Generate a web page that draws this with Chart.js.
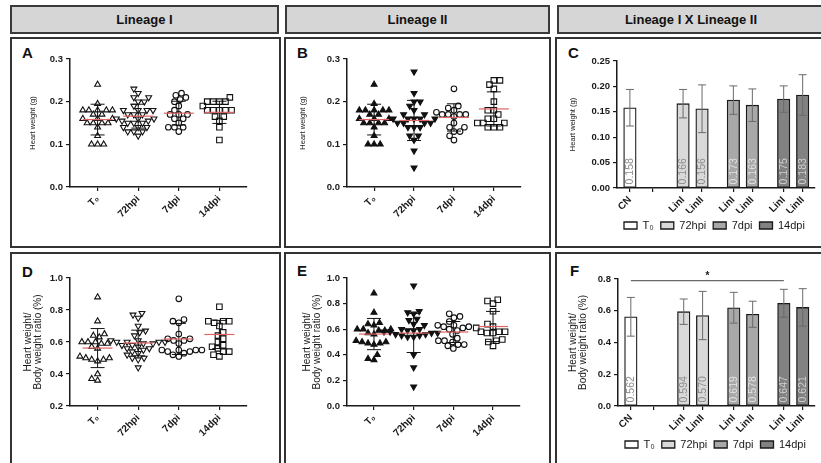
<!DOCTYPE html>
<html>
<head>
<meta charset="utf-8">
<script src="https://cdn.jsdelivr.net/npm/chart.js@4.4.1/dist/chart.umd.min.js"></script>
<style>
body { margin: 0; background: #fff; }
#fig { position: relative; width: 821px; height: 463px; overflow: hidden; font-family: 'Liberation Sans', Arial, sans-serif; }
.head { position: absolute; top: 5px; height: 25px; background: #d6d6d6; border: 2px solid #3a3a3a; font-weight: bold; font-size: 13px; line-height: 25px; text-align: center; color: #111; }
.panel { position: absolute; border: 2px solid #333; box-sizing: border-box; }
.tag { position: absolute; font-weight: bold; font-size: 15px; line-height: 15px; color: #111; }
canvas { position: absolute; }
</style>
</head>
<body>
<div id="fig">
  <div class="head" style="left:10px;width:265px">Lineage I</div>
  <div class="head" style="left:285px;width:261px">Lineage II</div>
  <div class="head" style="left:557px;width:264px">Lineage I X Lineage II</div>

  <div class="panel" style="left:10px;top:37px;width:271px;height:211px"></div>
  <div class="panel" style="left:284px;top:37px;width:267px;height:211px"></div>
  <div class="panel" style="left:555px;top:37px;width:268px;height:211px"></div>
  <div class="panel" style="left:10px;top:252px;width:271px;height:215px"></div>
  <div class="panel" style="left:284px;top:252px;width:267px;height:215px"></div>
  <div class="panel" style="left:555px;top:252px;width:268px;height:215px"></div>

  <div class="tag" style="left:22px;top:45px">A</div>
  <div class="tag" style="left:297px;top:45px">B</div>
  <div class="tag" style="left:568px;top:45px">C</div>
  <div class="tag" style="left:22px;top:264px">D</div>
  <div class="tag" style="left:297px;top:263px">E</div>
  <div class="tag" style="left:570px;top:263px">F</div>
</div>
<script>
// ---------- data ----------
const timeLabels = ['T₀', '72hpi', '7dpi', '14dpi'];

// heart weight (g), individual animals
const hwT0 = [0.24, 0.195, 0.18, 0.18, 0.18, 0.18, 0.18, 0.17, 0.17, 0.16, 0.16, 0.16, 0.15, 0.15, 0.15, 0.15, 0.14, 0.12, 0.10, 0.10, 0.10];
const hwLinI72 = [0.23, 0.22, 0.21, 0.21, 0.20, 0.20, 0.19, 0.18, 0.18, 0.18, 0.18, 0.17, 0.17, 0.17, 0.16, 0.16, 0.16, 0.155, 0.155, 0.15, 0.15, 0.15, 0.14, 0.14, 0.14, 0.13, 0.13, 0.13, 0.12];
const hwLinI7 = [0.22, 0.215, 0.21, 0.205, 0.20, 0.19, 0.18, 0.17, 0.17, 0.17, 0.16, 0.16, 0.15, 0.14, 0.14, 0.14, 0.13];
const hwLinI14 = [0.21, 0.20, 0.20, 0.20, 0.20, 0.19, 0.18, 0.18, 0.18, 0.18, 0.18, 0.165, 0.165, 0.155, 0.14, 0.11];
const hwLinII72 = [0.27, 0.22, 0.20, 0.20, 0.19, 0.18, 0.17, 0.17, 0.16, 0.16, 0.16, 0.16, 0.16, 0.15, 0.15, 0.15, 0.15, 0.14, 0.14, 0.14, 0.12, 0.12, 0.11, 0.085, 0.045];
const hwLinII7 = [0.23, 0.19, 0.185, 0.18, 0.175, 0.17, 0.17, 0.17, 0.17, 0.165, 0.15, 0.14, 0.14, 0.13, 0.13, 0.12, 0.11];
const hwLinII14 = [0.25, 0.25, 0.24, 0.23, 0.20, 0.18, 0.18, 0.17, 0.16, 0.16, 0.15, 0.15, 0.15, 0.14, 0.14, 0.14];

// heart weight / body weight ratio (%)
const rT0 = [0.88, 0.73, 0.65, 0.64, 0.63, 0.60, 0.60, 0.60, 0.59, 0.59, 0.57, 0.56, 0.51, 0.50, 0.50, 0.49, 0.49, 0.48, 0.40, 0.37, 0.36];
const rLinI72 = [0.78, 0.77, 0.75, 0.70, 0.67, 0.66, 0.64, 0.61, 0.61, 0.60, 0.60, 0.60, 0.60, 0.59, 0.59, 0.58, 0.58, 0.57, 0.56, 0.56, 0.55, 0.54, 0.53, 0.52, 0.50, 0.50, 0.49, 0.44];
const rLinI7 = [0.87, 0.74, 0.73, 0.72, 0.65, 0.62, 0.62, 0.61, 0.61, 0.59, 0.55, 0.55, 0.55, 0.55, 0.54, 0.54, 0.53, 0.52, 0.51];
const rLinI14 = [0.82, 0.73, 0.73, 0.73, 0.72, 0.70, 0.66, 0.64, 0.62, 0.60, 0.58, 0.57, 0.56, 0.54, 0.54, 0.52, 0.51];
const rLinII72 = [0.94, 0.74, 0.73, 0.72, 0.68, 0.67, 0.64, 0.63, 0.60, 0.60, 0.59, 0.59, 0.58, 0.58, 0.57, 0.57, 0.56, 0.56, 0.55, 0.55, 0.54, 0.54, 0.40, 0.30, 0.15];
const rLinII7 = [0.72, 0.70, 0.69, 0.66, 0.63, 0.63, 0.62, 0.62, 0.61, 0.60, 0.59, 0.56, 0.53, 0.51, 0.51, 0.50, 0.48, 0.48, 0.47, 0.45];
const rLinII14 = [0.83, 0.82, 0.80, 0.74, 0.64, 0.62, 0.61, 0.58, 0.58, 0.58, 0.57, 0.57, 0.52, 0.51, 0.50, 0.47];

// group means and SD (T0, 72hpi, 7dpi, 14dpi)
const hwMeanI = [0.158, 0.166, 0.173, 0.175];
const hwSdI = [0.036, 0.028, 0.028, 0.026];
const hwMeanII = [0.158, 0.156, 0.163, 0.183];
const hwSdII = [0.036, 0.047, 0.032, 0.040];
const rMeanI = [0.562, 0.594, 0.619, 0.647];
const rSdI = [0.122, 0.080, 0.097, 0.088];
const rMeanII = [0.562, 0.570, 0.578, 0.621];
const rSdII = [0.122, 0.152, 0.082, 0.118];

const hwTicks = [0, 0.1, 0.2, 0.3];
const rTicksI = [0.2, 0.4, 0.6, 0.8, 1.0];
const rTicksII = [0, 0.2, 0.4, 0.6, 0.8, 1.0];
const hwBarTicks = [0, 0.05, 0.10, 0.15, 0.20, 0.25];
const rBarTicks = [0, 0.2, 0.4, 0.6, 0.8];

// bars of C / F: CN then LinI, LinII per time point
const barNames = ['CN', 'LinI', 'LinII', 'LinI', 'LinII', 'LinI', 'LinII'];
const barTime = [0, 1, 1, 2, 2, 3, 3];
const barLineage = [0, 0, 1, 0, 1, 0, 1];
const sigF = { from: 0, to: 5, level: 0.79, label: '*' };

// ---------- styling ----------
Chart.defaults.font.family = "'Liberation Sans', Arial, sans-serif";
Chart.defaults.color = '#1a1a1a';
Chart.defaults.animation = false;

const ink = '#1a1a1a';
const markerStyle = ['triangle', 'triangle', 'circle', 'rect'];
const markerRotation = [0, 180, 0, 0];
const markerRadius = [3.4, 3.4, 2.8, 3.9];
const barFill = ['#ffffff', '#d9d9d9', '#a8a8a8', '#828282'];
const barText = ['#8c8c8c', '#8c8c8c', '#e2e2e2', '#cfcfcf'];

function makeCanvas(b) {
  const c = document.createElement('canvas');
  c.width = b.w; c.height = b.h;
  c.style.left = b.left + 'px'; c.style.top = b.top + 'px';
  document.getElementById('fig').appendChild(c);
  return c;
}

// simple beeswarm, offsets in px
function swarm(values, pxPerY, dia) {
  const placed = [];
  const out = new Array(values.length);
  const order = values.map((v, i) => i).sort((a, b) => values[a] - values[b]);
  order.forEach(i => {
    const y = values[i] * pxPerY;
    const blocked = [];
    placed.forEach(p => {
      const dy = Math.abs(p.y - y);
      if (dy < dia) {
        const w = Math.sqrt(dia * dia - dy * dy);
        blocked.push([p.x - w, p.x + w]);
      }
    });
    const cands = [0];
    blocked.forEach(([a, b]) => cands.push(a, b));
    cands.sort((a, b) => Math.abs(a) - Math.abs(b));
    let x = 0;
    for (const c of cands) {
      if (blocked.every(([a, b]) => c <= a + 1e-6 || c >= b - 1e-6)) { x = c; break; }
    }
    placed.push({ x, y });
    out[i] = x;
  });
  return out;
}

const summaryPlugin = {
  id: 'summary',
  afterDatasetsDraw(chart, args, opts) {
    const { ctx, scales: { x, y } } = chart;
    opts.means.forEach((m, i) => {
      const cx = x.getPixelForValue(i);
      const top = y.getPixelForValue(m + opts.sds[i]);
      const bot = y.getPixelForValue(m - opts.sds[i]);
      const my = y.getPixelForValue(m);
      ctx.save();
      ctx.strokeStyle = '#111';
      ctx.lineWidth = 1;
      ctx.beginPath();
      ctx.moveTo(cx, top); ctx.lineTo(cx, bot);
      ctx.moveTo(cx - 7, top); ctx.lineTo(cx + 7, top);
      ctx.moveTo(cx - 7, bot); ctx.lineTo(cx + 7, bot);
      ctx.stroke();
      ctx.strokeStyle = '#e06464';
      ctx.lineWidth = 1.2;
      ctx.beginPath();
      ctx.moveTo(cx - 15, my); ctx.lineTo(cx + 15, my);
      ctx.stroke();
      ctx.restore();
    });
  }
};

const barExtras = {
  id: 'barExtras',
  afterDatasetsDraw(chart, args, opts) {
    const { ctx, scales: { y } } = chart;
    const xs = [];
    chart.data.datasets.forEach((ds, di) => {
      chart.getDatasetMeta(di).data.forEach((bar, k) => {
        const m = ds.data[k].y, sd = ds.sd[k];
        xs[ds.index[k]] = bar.x;
        const top = y.getPixelForValue(m + sd), bot = y.getPixelForValue(m - sd);
        ctx.save();
        ctx.strokeStyle = '#6a6a6a';
        ctx.lineWidth = 1;
        ctx.beginPath();
        ctx.moveTo(bar.x, top); ctx.lineTo(bar.x, bot);
        ctx.moveTo(bar.x - 4, top); ctx.lineTo(bar.x + 4, top);
        ctx.moveTo(bar.x - 4, bot); ctx.lineTo(bar.x + 4, bot);
        ctx.stroke();
        ctx.translate(bar.x, bar.base - 3);
        ctx.rotate(-Math.PI / 2);
        ctx.fillStyle = ds.textColor;
        ctx.font = '10.5px "Liberation Sans", Arial, sans-serif';
        ctx.textAlign = 'left';
        ctx.textBaseline = 'middle';
        ctx.fillText(m.toFixed(3), 0, 0.5);
        ctx.restore();
      });
    });
    if (opts.sig) {
      const sy = y.getPixelForValue(opts.sig.level);
      ctx.save();
      ctx.strokeStyle = '#6a6a6a';
      ctx.lineWidth = 1.2;
      ctx.beginPath();
      ctx.moveTo(xs[opts.sig.from], sy); ctx.lineTo(xs[opts.sig.to], sy);
      ctx.stroke();
      ctx.fillStyle = ink;
      ctx.font = 'bold 10px "Liberation Sans", Arial, sans-serif';
      ctx.textAlign = 'center';
      ctx.textBaseline = 'bottom';
      ctx.fillText(opts.sig.label, (xs[opts.sig.from] + xs[opts.sig.to]) / 2, sy + 1);
      ctx.restore();
    }
  }
};

function yAxis(p, ticks, dec) {
  return {
    type: 'linear', min: ticks[0], max: ticks[ticks.length - 1],
    afterBuildTicks: ax => { ax.ticks = ticks.map(v => ({ value: v })); },
    ticks: { callback: v => Number(v).toFixed(dec), font: { size: 9.5, weight: 'bold' }, color: ink, padding: 3 },
    grid: { drawOnChartArea: false, drawTicks: true, tickLength: 4, color: ink, lineWidth: 1.2 },
    border: { display: true, color: ink, width: 1.5 },
    title: { display: true, text: p.title, font: { size: p.titleSize, lineHeight: p.titleLH }, padding: 0, color: ink },
    afterFit: ax => { ax.width = p.area.l - p.titleLeft; }
  };
}

function xAxis(p, min, max, vals, labels) {
  return {
    type: 'linear', min, max, offset: false,
    afterBuildTicks: ax => { ax.ticks = vals.map(v => ({ value: v })); },
    ticks: { callback: (v, i) => labels[i], autoSkip: false, minRotation: 45, maxRotation: 45, font: { size: 10, weight: 'bold' }, color: ink, padding: 2 },
    grid: { offset: false, drawOnChartArea: false, drawTicks: true, tickLength: 4, color: ink, lineWidth: 1.2 },
    border: { display: true, color: ink, width: 1.5 },
    afterFit: ax => { ax.height = p.xH; }
  };
}

function padding(p) {
  return {
    left: p.titleLeft - p.box.left,
    top: p.area.t - p.box.top,
    right: p.box.left + p.box.w - p.area.r,
    bottom: Math.max(0, p.box.top + p.box.h - p.area.b - p.xH - (p.legendH || 0))
  };
}

const SX_MIN = -0.68, SX_MAX = 3.68;

function scatterChart(p) {
  const pxPerY = (p.area.b - p.area.t) / (p.yTicks[p.yTicks.length - 1] - p.yTicks[0]);
  const pxPerX = (p.area.r - p.area.l) / (SX_MAX - SX_MIN);
  const datasets = p.groups.map((vals, g) => {
    const off = swarm(vals, pxPerY, 6.1);
    return {
      data: vals.map((v, k) => ({ x: g + off[k] / pxPerX, y: v })),
      showLine: false,
      pointStyle: markerStyle[g],
      pointRotation: markerRotation[g],
      pointRadius: markerRadius[g],
      pointBorderColor: '#111',
      pointBorderWidth: 1.1,
      pointBackgroundColor: (p.filled && g < 2) ? '#111' : 'rgba(0,0,0,0)'
    };
  });
  new Chart(makeCanvas(p.box), {
    type: 'scatter',
    data: { datasets },
    options: {
      responsive: false,
      layout: { padding: padding(p) },
      plugins: { legend: { display: false }, tooltip: { enabled: false }, summary: { means: p.means, sds: p.sds } },
      scales: {
        x: xAxis(p, SX_MIN, SX_MAX, [0, 1, 2, 3], timeLabels),
        y: yAxis(p, p.yTicks, p.dec)
      }
    },
    plugins: [summaryPlugin]
  });
}

const BX_MIN = -0.68, BX_MAX = 9.75;
function barX(i) {
  return barTime[i] === 0 ? 0 : 2.8 + (barTime[i] - 1) * 2.65 + barLineage[i];
}

function barChart(p) {
  const value = i => (barLineage[i] ? p.meanII : p.meanI)[barTime[i]];
  const sd = i => (barLineage[i] ? p.sdII : p.sdI)[barTime[i]];
  const datasets = timeLabels.map((t, k) => {
    const idx = barNames.map((n, i) => i).filter(i => barTime[i] === k);
    return {
      label: t,
      data: idx.map(i => ({ x: barX(i), y: value(i) })),
      sd: idx.map(sd),
      index: idx,
      textColor: barText[k],
      backgroundColor: barFill[k],
      borderColor: ink,
      borderWidth: 1.3,
      borderSkipped: false,
      barThickness: 12.5,
      grouped: false
    };
  });
  const tickVals = [0, 1.2].concat(barNames.slice(1).map((n, i) => barX(i + 1)));
  const tickLabels = ['CN', ''].concat(barNames.slice(1));
  new Chart(makeCanvas(p.box), {
    type: 'bar',
    data: { datasets },
    options: {
      responsive: false,
      layout: { padding: padding(p) },
      plugins: {
        tooltip: { enabled: false },
        legend: {
          position: 'bottom', align: 'start', fullSize: false,
          labels: { boxWidth: 13, boxHeight: 7, padding: 7, font: { size: 11 }, color: ink }
        },
        barExtras: { sig: p.sig }
      },
      scales: {
        x: xAxis(p, BX_MIN, BX_MAX, tickVals, tickLabels),
        y: yAxis(p, p.yTicks, p.dec)
      }
    },
    plugins: [barExtras]
  });
}

const hwTitle = 'Heart weight (g)';
const rTitle = ['Heart weight/', 'Body weight ratio (%)'];

scatterChart({
  box: { left: 13, top: 39, w: 266, h: 207 }, area: { l: 70, t: 59, r: 247, b: 187 },
  titleLeft: 28.5, title: hwTitle, titleSize: 7.5, titleLH: 1.2, xH: 45,
  groups: [hwT0, hwLinI72, hwLinI7, hwLinI14], means: hwMeanI, sds: hwSdI,
  yTicks: hwTicks, dec: 1, filled: false
});
scatterChart({
  box: { left: 287, top: 39, w: 262, h: 207 }, area: { l: 347, t: 59, r: 521, b: 187 },
  titleLeft: 298.5, title: hwTitle, titleSize: 7.5, titleLH: 1.2, xH: 45,
  groups: [hwT0, hwLinII72, hwLinII7, hwLinII14], means: hwMeanII, sds: hwSdII,
  yTicks: hwTicks, dec: 1, filled: true
});
barChart({
  box: { left: 558, top: 39, w: 263, h: 207 }, area: { l: 617, t: 61, r: 815, b: 187 },
  titleLeft: 568.5, title: hwTitle, titleSize: 7.5, titleLH: 1.2, xH: 25, legendH: 29,
  meanI: hwMeanI, sdI: hwSdI, meanII: hwMeanII, sdII: hwSdII,
  yTicks: hwBarTicks, dec: 2
});
scatterChart({
  box: { left: 13, top: 254, w: 266, h: 207 }, area: { l: 70, t: 278, r: 247, b: 406 },
  titleLeft: 22.75, title: rTitle, titleSize: 10, titleLH: 1.05, xH: 45,
  groups: [rT0, rLinI72, rLinI7, rLinI14], means: rMeanI, sds: rSdI,
  yTicks: rTicksI, dec: 1, filled: false
});
scatterChart({
  box: { left: 287, top: 254, w: 262, h: 207 }, area: { l: 347, t: 278, r: 520, b: 406 },
  titleLeft: 301.75, title: rTitle, titleSize: 10, titleLH: 1.05, xH: 45,
  groups: [rT0, rLinII72, rLinII7, rLinII14], means: rMeanII, sds: rSdII,
  yTicks: rTicksII, dec: 1, filled: true
});
barChart({
  box: { left: 558, top: 254, w: 263, h: 207 }, area: { l: 618, t: 279, r: 815, b: 405 },
  titleLeft: 567.75, title: rTitle, titleSize: 10, titleLH: 1.05, xH: 26, legendH: 29,
  meanI: rMeanI, sdI: rSdI, meanII: rMeanII, sdII: rSdII,
  yTicks: rBarTicks, dec: 1, sig: sigF
});
</script>
</body>
</html>
